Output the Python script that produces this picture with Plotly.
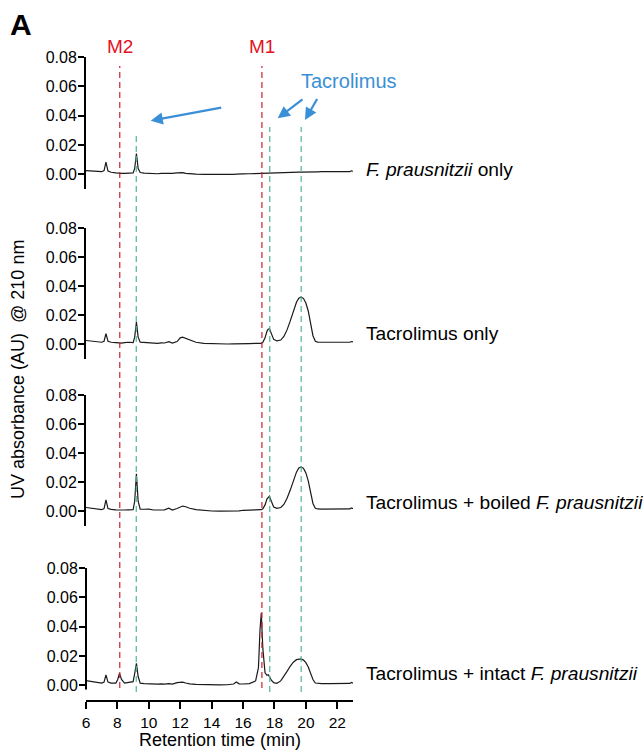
import plotly.graph_objects as go

# ---------------- data ----------------
retention_time = [6.0, 6.5, 7.0, 7.15, 7.27, 7.4, 7.6, 7.9, 8.02, 8.13, 8.26, 8.45, 8.7, 9.0, 9.1, 9.21, 9.32,
                  9.45, 9.7, 10.0, 10.3, 10.55, 10.8, 11.0, 11.27, 11.5, 11.8, 12.0, 12.15, 12.35, 12.6, 13.0,
                  13.5, 14.0, 14.5, 15.0, 15.4, 15.57, 15.75, 16.0, 16.4, 16.8, 16.98, 17.08, 17.16, 17.26,
                  17.4, 17.52, 17.6, 17.68, 17.8, 17.95, 18.15, 18.4, 18.6, 18.8, 19.0, 19.2, 19.4, 19.55,
                  19.7, 19.85, 20.0, 20.15, 20.3, 20.45, 20.6, 20.75, 21.0, 21.5, 22.0, 22.5, 22.8, 22.9, 23.0]

fp_only = [0.0025, 0.0022, 0.0018, 0.0025, 0.0084, 0.0022, 0.0014, 0.0010, 0.0008, 0.0007, 0.0007, 0.0007,
           0.0008, 0.0010, 0.0040, 0.0142, 0.0040, 0.0012, 0.0008, 0.0006, 0.0007, 0.0004, 0.0006, 0.0005,
           0.0008, 0.0006, 0.0010, 0.0013, 0.0012, 0.0006, 0.0003, 0.0001, 0.0000, -0.0001, -0.0001, 0.0000,
           0.0000, 0.0002, 0.0001, 0.0003, 0.0004, 0.0006, 0.0007, 0.0007, 0.0007, 0.0008, 0.0008, 0.0009,
           0.0009, 0.0010, 0.0010, 0.0011, 0.0012, 0.0012, 0.0013, 0.0013, 0.0014, 0.0014, 0.0015, 0.0015,
           0.0015, 0.0016, 0.0016, 0.0016, 0.0017, 0.0017, 0.0017, 0.0017, 0.0018, 0.0018, 0.0019, 0.0019,
           0.0019, 0.0024, 0.0021]

tac_only = [0.0027, 0.0022, 0.0015, 0.0022, 0.0075, 0.0022, 0.0015, 0.0012, 0.0010, 0.0009, 0.0009, 0.0012,
            0.0015, 0.0012, 0.0050, 0.0153, 0.0050, 0.0016, 0.0014, 0.0013, 0.0009, 0.0008, 0.0011, 0.0010,
            0.0019, 0.0009, 0.0020, 0.0045, 0.0050, 0.0043, 0.0030, 0.0015, 0.0008, 0.0005, 0.0004, 0.0003,
            0.0004, 0.0005, 0.0004, 0.0008, 0.0006, 0.0007, 0.0007, 0.0007, 0.0008, 0.0015, 0.0045, 0.0090,
            0.0105, 0.0108, 0.0075, 0.0035, 0.0024, 0.0030, 0.0055, 0.0100, 0.0160, 0.0230, 0.0290, 0.0318,
            0.0326, 0.0315, 0.0285, 0.0230, 0.0140, 0.0060, 0.0022, 0.0016, 0.0015, 0.0014, 0.0014, 0.0014,
            0.0015, 0.0020, 0.0017]

tac_boiled = [0.0027, 0.0020, 0.0012, 0.0020, 0.0080, 0.0020, 0.0014, 0.0011, 0.0010, 0.0009, 0.0009, 0.0010,
              0.0011, 0.0012, 0.0070, 0.0258, 0.0070, 0.0016, 0.0015, 0.0016, 0.0010, 0.0009, 0.0012, 0.0011,
              0.0022, 0.0010, 0.0020, 0.0033, 0.0037, 0.0032, 0.0022, 0.0012, 0.0006, 0.0003, 0.0002, 0.0002,
              0.0003, 0.0006, 0.0004, 0.0008, 0.0009, 0.0011, 0.0011, 0.0011, 0.0012, 0.0018, 0.0045, 0.0085,
              0.0100, 0.0105, 0.0070, 0.0030, 0.0021, 0.0027, 0.0048, 0.0090, 0.0145, 0.0210, 0.0270, 0.0298,
              0.0306, 0.0296, 0.0265, 0.0210, 0.0130, 0.0055, 0.0022, 0.0017, 0.0016, 0.0016, 0.0016, 0.0016,
              0.0017, 0.0024, 0.0019]

tac_intact = [0.0032, 0.0024, 0.0015, 0.0022, 0.0071, 0.0022, 0.0015, 0.0015, 0.0040, 0.0082, 0.0040, 0.0015,
              0.0018, 0.0025, 0.0080, 0.0150, 0.0060, 0.0015, 0.0012, 0.0010, 0.0009, 0.0008, 0.0010, 0.0008,
              0.0012, 0.0008, 0.0018, 0.0023, 0.0022, 0.0016, 0.0010, 0.0006, 0.0004, 0.0003, 0.0003, 0.0004,
              0.0009, 0.0023, 0.0010, 0.0009, 0.0012, 0.0030, 0.0120, 0.0380, 0.0492, 0.0250, 0.0085, 0.0068,
              0.0072, 0.0060, 0.0035, 0.0018, 0.0014, 0.0030, 0.0060, 0.0095, 0.0130, 0.0158, 0.0175, 0.0180,
              0.0180, 0.0172, 0.0155, 0.0125, 0.0085, 0.0040, 0.0016, 0.0013, 0.0012, 0.0012, 0.0012, 0.0012,
              0.0013, 0.0020, 0.0015]

series = [fp_only, tac_only, tac_boiled, tac_intact]
series_labels = ["<i>F. prausnitzii</i> only", "Tacrolimus only",
                 "Tacrolimus + boiled <i>F. prausnitzii</i>",
                 "Tacrolimus + intact <i>F. prausnitzii</i>"]

metabolite_names = ["M2", "M1"]
metabolite_times = [8.15, 17.2]
tacrolimus_times = [9.2, 17.7, 19.7]

y_tickvals = [0.0, 0.02, 0.04, 0.06, 0.08]
y_ticktext = ["0.00", "0.02", "0.04", "0.06", "0.08"]
x_tickvals = [6, 8, 10, 12, 14, 16, 18, 20, 22]

# ---------------- layout geometry ----------------
W, H = 644, 750
ML, MR, MT, MB = 86, 291, 57, 50
PW, PH = W - ML - MR, H - MT - MB


def px2x(px):
    return (px - ML) / PW


def px2y(py):
    return (H - MB - py) / PH


panel_px = [(57, 189), (228, 359), (395, 526), (568, 700)]
FONT = "Liberation Sans, Arial, Helvetica, sans-serif"
RED = "#c8232f"
RED_TXT = "#e2131f"
GREEN = "#52b88f"
BLUE = "#3a8fd6"

fig = go.Figure()
layout = dict(
    width=W, height=H,
    margin=dict(l=ML, r=MR, t=MT, b=MB, autoexpand=False),
    plot_bgcolor="white", paper_bgcolor="white",
    showlegend=False,
    font=dict(family=FONT, color="black", size=16),
)

for i, (vals, lab) in enumerate(zip(series, series_labels)):
    n = i + 1
    xa = "x" if n == 1 else f"x{n}"
    ya = "y" if n == 1 else f"y{n}"
    fig.add_trace(go.Scatter(x=retention_time, y=vals, mode="lines",
                             line=dict(color="#1a1a1a", width=1.2),
                             xaxis=xa, yaxis=ya, hoverinfo="skip"))
    top, bot = panel_px[i]
    last = (n == 4)
    layout["xaxis" if n == 1 else f"xaxis{n}"] = dict(
        domain=[0, 1], range=[6, 23], anchor=ya, automargin=False,
        visible=last, showgrid=False, zeroline=False,
        showline=last, linecolor="black", linewidth=2,
        ticks="outside", ticklen=7, tickwidth=1.5, tickcolor="black",
        tickvals=x_tickvals, tickfont=dict(size=15.5),
    )
    layout["yaxis" if n == 1 else f"yaxis{n}"] = dict(
        domain=[px2y(bot), px2y(top)], range=[-0.01, 0.08], anchor=xa, automargin=False,
        showgrid=False, zeroline=False,
        showline=not last, linecolor="black", linewidth=2,
        ticks="outside", ticklen=6, tickwidth=1.5, tickcolor="black",
        tickvals=y_tickvals, ticktext=y_ticktext, tickfont=dict(size=16),
        ticklabelstandoff=-2,
    )

shapes = []
# y axis line of bottom panel (offset from x axis)
shapes.append(dict(type="line", xref="paper", yref="y4", x0=0, x1=0, y0=-0.0028, y1=0.08,
                   line=dict(color="black", width=2)))
for t in metabolite_times:
    shapes.append(dict(type="line", xref="x4", yref="paper", x0=t, x1=t,
                       y0=px2y(688), y1=px2y(66),
                       line=dict(color=RED, width=1.2, dash="6px,4px")))
tac_tops = [132, 127, 127]
for t, tp in zip(tacrolimus_times, tac_tops):
    shapes.append(dict(type="line", xref="x4", yref="paper", x0=t, x1=t,
                       y0=px2y(692), y1=px2y(tp),
                       line=dict(color=GREEN, width=1.2, dash="6px,4px")))
layout["shapes"] = shapes

ann = []
ann.append(dict(text="<b>A</b>", xref="paper", yref="paper", x=px2x(8), y=px2y(25),
                xanchor="left", yanchor="middle", showarrow=False, font=dict(size=30, color="black")))
for name, t in zip(metabolite_names, metabolite_times):
    ann.append(dict(text=name, xref="x4", yref="paper", x=t, y=px2y(46),
                    xanchor="center", yanchor="middle", showarrow=False,
                    font=dict(size=19, color=RED_TXT)))
ann.append(dict(text="Tacrolimus", xref="paper", yref="paper", x=px2x(349), y=px2y(81),
                xanchor="center", yanchor="middle", showarrow=False,
                font=dict(size=20, color=BLUE)))
arrows = [((150.7, 120.7), (222.7, 107.3)),
          ((277.7, 118.3), (304.0, 98.3)),
          ((305.0, 120.0), (318.0, 97.5))]
for (hx, hy), (tx, ty) in arrows:
    ann.append(dict(text="", xref="paper", yref="paper", x=px2x(hx), y=px2y(hy),
                    ax=tx - hx, ay=ty - hy, showarrow=True, arrowhead=2, arrowsize=1.1,
                    arrowwidth=2.2, arrowcolor=BLUE, standoff=0, startstandoff=0))
label_y = [169, 333, 502, 673]
for lab, ly in zip(series_labels, label_y):
    ann.append(dict(text=lab, xref="paper", yref="paper", x=px2x(364), y=px2y(ly),
                    xanchor="left", yanchor="middle", showarrow=False,
                    font=dict(size=19.2, color="black")))
ann.append(dict(text="UV absorbance (AU)\u00a0 @ 210 nm", xref="paper", yref="paper",
                x=px2x(18), y=px2y(370), textangle=-90, xanchor="center", yanchor="middle",
                showarrow=False, font=dict(size=18, color="black")))
ann.append(dict(text="Retention time (min)", xref="paper", yref="paper",
                x=px2x(219.5), y=px2y(740), xanchor="center", yanchor="middle",
                showarrow=False, font=dict(size=18, color="black")))
layout["annotations"] = ann

fig.update_layout(**layout)
fig.write_html("out.html", config={"displayModeBar": False},
               post_script="document.body.style.margin='0';document.body.style.padding='0';")
